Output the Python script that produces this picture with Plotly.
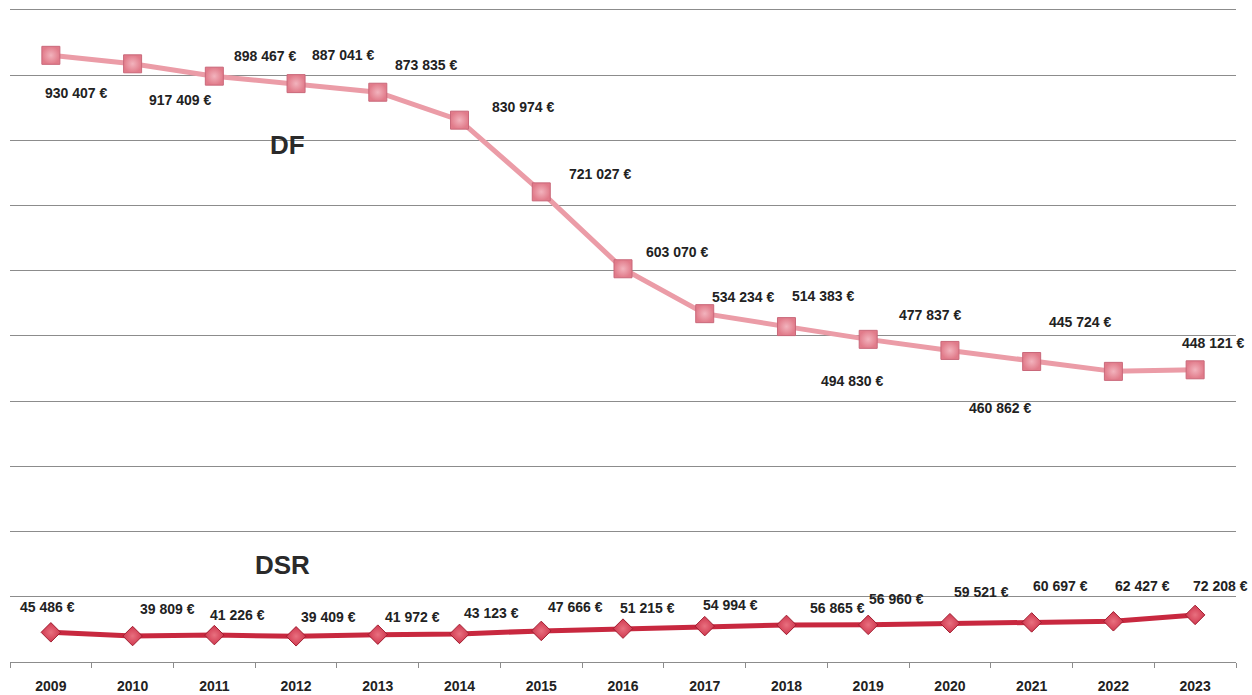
import plotly.graph_objects as go

# Years on the category axis
years = ["2009", "2010", "2011", "2012", "2013", "2014", "2015", "2016",
         "2017", "2018", "2019", "2020", "2021", "2022", "2023"]

# DF series (euros)
df_values = [930407, 917409, 898467, 887041, 873835, 830974, 721027, 603070,
             534234, 514383, 494830, 477837, 460862, 445724, 448121]

# DSR series (euros)
dsr_values = [45486, 39809, 41226, 39409, 41972, 43123, 47666, 51215,
              54994, 56865, 56960, 59521, 60697, 62427, 72208]

# Pixel offsets of each value label from its point (x right, y up)
df_label_dx = [25, 47, 51, 47, 48, 63, 59, 54, 38, 37, -16, -20, -32, -33, 18]
df_label_dy = [-38, -36, 20, 29, 27, 13, 18, 17, 17, 31, -42, 35, -46, 49, 27]
dsr_label_dx = [-3, 35, 23, 32, 35, 32, 34, 24, 26, 51, 28, 32, 29, 29, 25]
dsr_label_dy = [25, 27, 20, 19, 18, 21, 24, 21, 21, 17, 26, 31, 36, 35, 29]


def euro(v):
    return f"{v:,}".replace(",", " ") + " €"


fig = go.Figure()

fig.add_trace(go.Scatter(
    x=years, y=df_values, mode="lines+markers", name="DF",
    line=dict(color="#EB9CA7", width=5),
    marker=dict(symbol="square", size=18, color="#E17B8A",
                gradient=dict(type="radial", color="#F2B3BD"),
                line=dict(color="#C9687A", width=1)),
    hoverinfo="skip",
))

fig.add_trace(go.Scatter(
    x=years, y=dsr_values, mode="lines+markers", name="DSR",
    line=dict(color="#C8283F", width=5),
    marker=dict(symbol="diamond", size=15, color="#D0384F",
                gradient=dict(type="radial", color="#E8707F"),
                line=dict(color="#A01E30", width=1)),
    hoverinfo="skip",
))

label_font = dict(family="Liberation Sans, Arial, sans-serif", size=14, color="#222222")
annotations = []
# category index is used for x so that year strings are not read as numbers
for i, (v, dx, dy) in enumerate(zip(df_values, df_label_dx, df_label_dy)):
    annotations.append(dict(x=i, y=v, text=f"<b>{euro(v)}</b>", showarrow=False,
                            xshift=dx, yshift=dy, font=label_font,
                            xanchor="center", yanchor="middle"))
for i, (v, dx, dy) in enumerate(zip(dsr_values, dsr_label_dx, dsr_label_dy)):
    annotations.append(dict(x=i, y=v, text=f"<b>{euro(v)}</b>", showarrow=False,
                            xshift=dx, yshift=dy, font=label_font,
                            xanchor="center", yanchor="middle"))

# Series names written inside the plot
name_font = dict(family="Liberation Sans, Arial, sans-serif", size=26, color="#2a2a2a")
annotations.append(dict(x=0.226, y=0.79, xref="paper", yref="paper", text="<b>DF</b>",
                        showarrow=False, font=name_font, xanchor="center", yanchor="middle"))
annotations.append(dict(x=0.222, y=0.149, xref="paper", yref="paper", text="<b>DSR</b>",
                        showarrow=False, font=name_font, xanchor="center", yanchor="middle"))

fig.update_layout(
    width=1252, height=695,
    margin=dict(l=10, r=16, t=8, b=33),
    paper_bgcolor="white", plot_bgcolor="white",
    showlegend=False,
    annotations=annotations,
    xaxis=dict(
        type="category", range=[-0.5, 14.5], automargin=False,
        showgrid=False, showline=True, linecolor="#8c8c8c", linewidth=1,
        ticks="outside", tickson="boundaries", ticklen=5, tickcolor="#8c8c8c",
        ticklabelstandoff=11,
        tickfont=dict(family="Liberation Sans, Arial, sans-serif", size=14, color="#222222"),
        tickprefix="<b>", ticksuffix="</b>",
    ),
    yaxis=dict(
        range=[0, 1003000], tick0=0, dtick=100000, automargin=False,
        showgrid=True, gridcolor="#8c8c8c", gridwidth=1,
        showticklabels=False, zeroline=False, showline=False,
    ),
)

fig.write_html("out.html")
